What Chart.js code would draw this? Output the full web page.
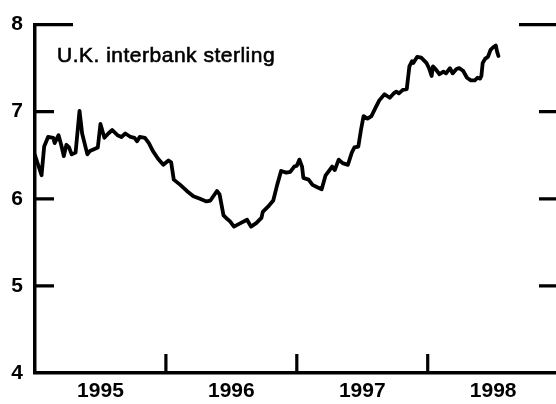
<!DOCTYPE html>
<html>
<head>
<meta charset="utf-8">
<script src="https://cdn.jsdelivr.net/npm/chart.js@4"></script>
<style>
  html, body { margin: 0; padding: 0; background: #fff; }
  #wrap { width: 556px; height: 404px; position: relative; }
</style>
</head>
<body>
<div id="wrap"><canvas id="rateChart"></canvas></div>
<script>
// dates as decimal years, rates in percent
const dates = [
  1995.00, 1995.05, 1995.07, 1995.10, 1995.14, 1995.15, 1995.18, 1995.20, 1995.22, 1995.24,
  1995.26, 1995.28, 1995.31, 1995.34, 1995.36, 1995.40, 1995.42, 1995.48, 1995.50, 1995.53,
  1995.56, 1995.59, 1995.63, 1995.66, 1995.69, 1995.73, 1995.76, 1995.78, 1995.80, 1995.84,
  1995.87, 1995.90, 1995.94, 1995.98, 1996.02, 1996.04, 1996.06, 1996.11, 1996.16, 1996.21,
  1996.26, 1996.31, 1996.34, 1996.39, 1996.41, 1996.44, 1996.46, 1996.49, 1996.52, 1996.57,
  1996.62, 1996.65, 1996.69, 1996.73, 1996.74, 1996.78, 1996.82, 1996.85, 1996.88, 1996.92,
  1996.95, 1996.98, 1997.00, 1997.02, 1997.04, 1997.05, 1997.09, 1997.12, 1997.16, 1997.19,
  1997.22, 1997.27, 1997.29, 1997.32, 1997.35, 1997.39, 1997.42, 1997.44, 1997.47, 1997.49,
  1997.51, 1997.54, 1997.57, 1997.60, 1997.63, 1997.67, 1997.71, 1997.74, 1997.76, 1997.78,
  1997.81, 1997.84, 1997.86, 1997.88, 1997.89, 1997.92, 1997.95, 1997.99, 1998.01, 1998.03,
  1998.04, 1998.06, 1998.09, 1998.12, 1998.14, 1998.17, 1998.19, 1998.22, 1998.24, 1998.27,
  1998.30, 1998.33, 1998.36, 1998.38, 1998.40, 1998.41, 1998.42, 1998.44, 1998.46, 1998.48,
  1998.50, 1998.52, 1998.53, 1998.54
];
const rates = [
  6.50, 6.27, 6.60, 6.71, 6.70, 6.64, 6.73, 6.62, 6.49, 6.62,
  6.59, 6.51, 6.53, 7.01, 6.75, 6.51, 6.55, 6.59, 6.86, 6.70,
  6.75, 6.79, 6.73, 6.71, 6.75, 6.71, 6.70, 6.66, 6.71, 6.70,
  6.64, 6.55, 6.46, 6.39, 6.44, 6.42, 6.22, 6.16, 6.09, 6.03,
  6.00, 5.97, 5.98, 6.09, 6.05, 5.81, 5.78, 5.74, 5.68, 5.72,
  5.76, 5.68, 5.72, 5.78, 5.85, 5.91, 5.98, 6.16, 6.32, 6.30,
  6.31, 6.37, 6.38, 6.45, 6.37, 6.24, 6.22, 6.16, 6.13, 6.11,
  6.27, 6.37, 6.33, 6.45, 6.41, 6.39, 6.53, 6.59, 6.60, 6.79,
  6.95, 6.92, 6.95, 7.04, 7.13, 7.20, 7.16, 7.21, 7.23, 7.21,
  7.25, 7.26, 7.52, 7.58, 7.56, 7.63, 7.62, 7.56, 7.50, 7.41,
  7.52, 7.49, 7.43, 7.46, 7.44, 7.50, 7.44, 7.49, 7.50, 7.47,
  7.39, 7.36, 7.36, 7.39, 7.38, 7.41, 7.56, 7.61, 7.63, 7.71,
  7.74, 7.76, 7.69, 7.64
];
const yearLabels = ["1995", "1996", "1997", "1998"];
const yearTicks = [1996, 1997, 1998];
const rateTicks = [5, 6, 7];
const seriesTitle = "U.K. interbank sterling";

// inward tick marks, partial top frame and the series caption
const frameMarks = {
  id: "frameMarks",
  afterDraw(chart) {
    const { ctx, chartArea, scales } = chart;
    const x = scales.x, y = scales.y;
    ctx.save();
    ctx.strokeStyle = "#000";
    ctx.lineWidth = 3.2;
    ctx.lineCap = "butt";
    ctx.beginPath();
    // top stubs
    const yTop = y.getPixelForValue(8);
    ctx.moveTo(chartArea.left - 1.5, yTop);
    ctx.lineTo(chartArea.left + 38, yTop);
    ctx.moveTo(chartArea.right - 37, yTop);
    ctx.lineTo(chartArea.right, yTop);
    // y ticks, both sides
    rateTicks.forEach(v => {
      const py = y.getPixelForValue(v);
      ctx.moveTo(chartArea.left, py);
      ctx.lineTo(chartArea.left + 19, py);
      ctx.moveTo(chartArea.right - 17, py);
      ctx.lineTo(chartArea.right, py);
    });
    // year boundaries
    yearTicks.forEach(t => {
      const px = x.getPixelForValue(t);
      ctx.moveTo(px, chartArea.bottom);
      ctx.lineTo(px, chartArea.bottom - 19);
    });
    ctx.stroke();

    ctx.fillStyle = "#000";
    ctx.font = "21px 'Liberation Sans', Arial, sans-serif";
    ctx.letterSpacing = "0.5px";
    ctx.textBaseline = "alphabetic";
    ctx.lineWidth = 0.6;
    ctx.fillText(seriesTitle, chartArea.left + 22, 62);
    ctx.strokeText(seriesTitle, chartArea.left + 22, 62);
    ctx.restore();
  }
};

const ctx = document.getElementById("rateChart").getContext("2d");
new Chart(ctx, {
  type: "line",
  data: {
    datasets: [{
      data: dates.map((d, i) => ({ x: d, y: rates[i] })),
      borderColor: "#000",
      borderWidth: 3.8,
      borderJoinStyle: "round",
      borderCapStyle: "round",
      pointRadius: 0,
      tension: 0,
      fill: false,
    }]
  },
  options: {
    responsive: true,
    maintainAspectRatio: false,
    animation: false,
    layout: { padding: { top: 10, right: 0, left: 0, bottom: 0 } },
    plugins: { legend: { display: false }, tooltip: { enabled: false } },
    scales: {
      x: {
        type: "linear",
        min: 1995,
        max: 1998.98,
        grid: { display: false, drawTicks: false },
        border: { display: true, color: "#000", width: 3.5 },
        afterBuildTicks: (scale) => {
          scale.ticks = yearLabels.map((_, i) => ({ value: 1995.5 + i }));
        },
        afterFit: (scale) => { scale.height = 31; },
        ticks: {
          padding: 6,
          color: "#000",
          maxRotation: 0,
          font: { family: "'Liberation Sans', Arial, sans-serif", size: 21, weight: "bold" },
          callback: (value, i) => yearLabels[i],
        }
      },
      y: {
        min: 4,
        max: 8,
        grid: { display: false, drawTicks: false },
        border: { display: true, color: "#000", width: 3.5 },
        afterFit: (scale) => { scale.width = 35; },
        ticks: {
          stepSize: 1,
          padding: 12,
          color: "#000",
          font: { family: "'Liberation Sans', Arial, sans-serif", size: 21, weight: "bold" },
        }
      }
    }
  },
  plugins: [frameMarks]
});
</script>
</body>
</html>
